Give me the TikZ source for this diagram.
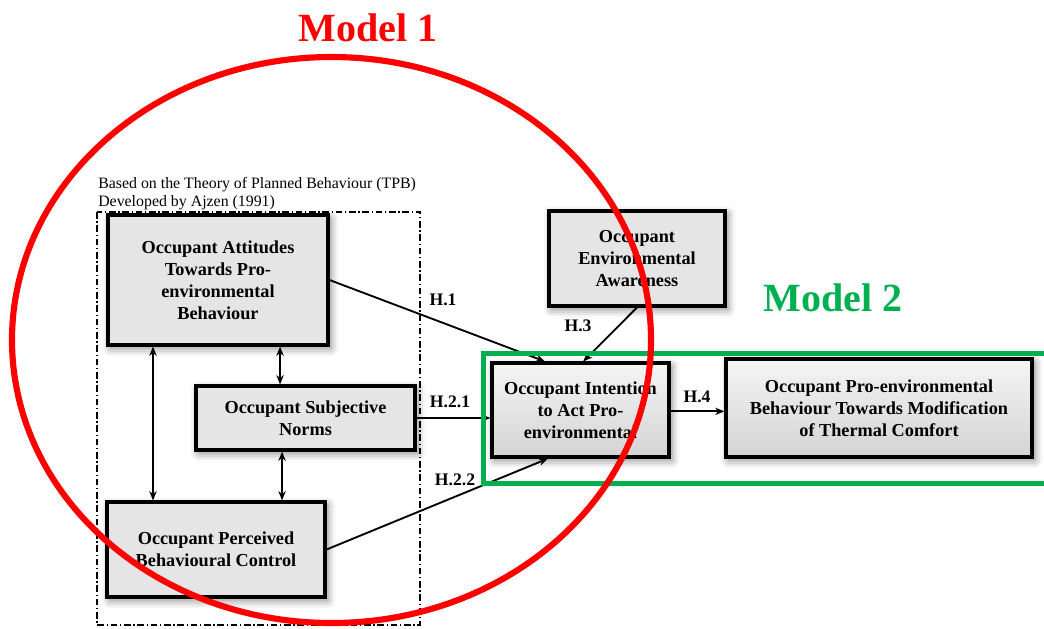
\documentclass[tikz,border=0pt]{standalone}
\usepackage{fontspec}
\setmainfont{Liberation Serif}
\usetikzlibrary{arrows.meta,shadows.blur}
\definecolor{mgreen}{RGB}{0,176,80}
\definecolor{mred}{RGB}{255,0,0}
\begin{document}
\begin{tikzpicture}[x=0.75pt,y=-0.75pt,
 box/.style={draw=black, line width=2.3pt, fill=gray!20, align=center,
   font=\fontsize{13.7}{16.5}\selectfont\bfseries, inner sep=0pt,
   blur shadow={shadow xshift=2pt, shadow yshift=-2.5pt, shadow blur radius=6pt, shadow opacity=50}},
 gbox/.style={box, top color=gray!8, bottom color=gray!34},
 lbl/.style={font=\fontsize{13.2}{15}\selectfont\bfseries, inner sep=0pt},
 arr/.style={line width=1.4pt, -{Stealth[length=7pt,width=5.5pt]}},
 darr/.style={line width=1.4pt, {Stealth[length=7pt,width=5.5pt]}-{Stealth[length=7pt,width=5.5pt]}},
 title/.style={font=\fontsize{30}{34}\selectfont\bfseries, inner sep=0pt}
]
\useasboundingbox (0,0) rectangle (1044,628);
\clip (0,0) rectangle (1044,628);

% TPB frame
\draw[line width=0.8pt, dash pattern=on 5pt off 2pt on 1pt off 2pt] (97,212) rectangle (420,625);
\node[anchor=north west, align=left, inner sep=0pt, font=\fontsize{11.9}{13.5}\selectfont] (tpb) at (98,177)
  {Based on the Theory of Planned Behaviour (TPB)\\Developed by Ajzen (1991)};

% boxes
\node[box, minimum width=165pt, minimum height=97.5pt] (A) at (218,280)
  {Occupant Attitudes\\Towards Pro-\\environmental\\Behaviour};
\node[box, minimum width=164.25pt, minimum height=48pt] (SN) at (305.5,418)
  {Occupant Subjective\\Norms};
\node[box, minimum width=163.5pt, minimum height=71.25pt] (PBC) at (216,549.5)
  {Occupant Perceived\\Behavioural Control};
\node[gbox, minimum width=132.75pt, minimum height=70.5pt] (INT) at (580.5,410)
  {Occupant Intention\\to Act Pro-\\environmental};
\node[box, minimum width=132pt, minimum height=71.25pt] (AW) at (637,258.5)
  {Occupant\\Environmental\\Awareness};
\node[gbox, minimum width=229.5pt, minimum height=73.5pt] (BEH) at (879,408)
  {Occupant Pro-environmental\\Behaviour Towards Modification\\of Thermal Comfort};

% connectors
\draw[arr] (A.east) -- ([xshift=-26.6pt]INT.north);
\draw[arr] (AW.south) -- ([xshift=2pt]INT.north);
\draw[arr] (SN.east) -- (SN.east -| INT.west);
\draw[arr] (PBC.east) -- ([xshift=-24.4pt]INT.south);
\draw[arr] ([yshift=-1pt]INT.east) -- ([yshift=-1pt]INT.east -| BEH.west);
\draw[darr] ([xshift=-48.75pt]A.south) -- ([xshift=-48.75pt]A.south |- PBC.north);
\draw[darr] ([xshift=-19.1pt]SN.north) -- ([xshift=-19.1pt]SN.north |- A.south);
\draw[darr] ([xshift=-17.6pt]SN.south) -- ([xshift=-17.6pt]SN.south |- PBC.north);

% labels
\node[lbl] (h1) at (443,300) {H.1};
\node[lbl] (h3) at (578,326) {H.3};
\node[lbl] (h21) at (450,402) {H.2.1};
\node[lbl] (h22) at (455,480) {H.2.2};
\node[lbl] (h4) at (697,397) {H.4};

% model frames
\draw[mgreen, line width=3.75pt] (483,353) rectangle (1060,483);
\draw[mred, line width=4.6pt] (331.5,340) ellipse [x radius=319.5, y radius=283];
\node[title, text=mred] (m1) at (368,28) {Model 1};
\node[title, text=mgreen] (m2) at (833,298) {Model 2};
\end{tikzpicture}
\end{document}
